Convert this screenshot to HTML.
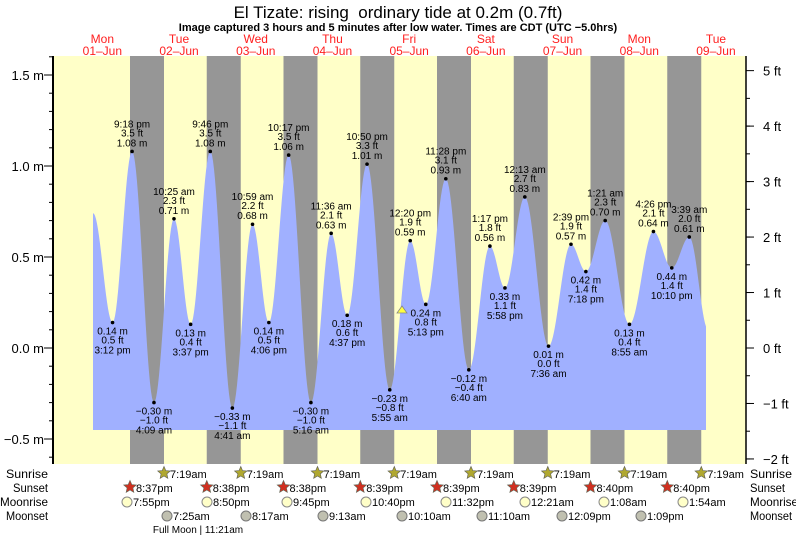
<!DOCTYPE html>
<html><head><meta charset="utf-8"><style>
body{margin:0;background:#fff;}
svg{display:block;font-family:"Liberation Sans",sans-serif;}
</style></head><body>
<svg id="s" width="796" height="537" xmlns="http://www.w3.org/2000/svg">
<rect x="53" y="56" width="693" height="408" fill="#ffffc8"/>
<g id="bands" fill="#969696"></g>
<path id="tide" fill="#a0b0ff"/>
<g id="lbl" font-size="10" text-anchor="middle" fill="#000"></g>
<line x1="53" y1="56" x2="53" y2="464" stroke="#000" stroke-width="2"/>
<line x1="746" y1="56" x2="746" y2="464" stroke="#000" stroke-width="1.5"/>
<g id="ax" font-size="13" fill="#000"></g>
<text x="398" y="18" font-size="17" text-anchor="middle">El Tizate: rising&#160; ordinary tide at 0.2m (0.7ft)</text>
<text x="398" y="31" font-size="11" font-weight="bold" text-anchor="middle">Image captured 3 hours and 5 minutes after low water. Times are CDT (UTC −5.0hrs)</text>
<g id="days" font-size="12" fill="#ff2020" text-anchor="middle"></g>
<g id="bot" font-size="12" fill="#000"></g>
<text x="198" y="533" font-size="10" text-anchor="middle">Full Moon | 11:21am</text>
<polygon points="397,313 402,306 407,313" fill="#ffff40" stroke="#888" stroke-width="0.8"/>
</svg>
<script>
const NS="http://www.w3.org/2000/svg";
function el(p,t,a,txt){const e=document.createElementNS(NS,t);for(const k in a)e.setAttribute(k,a[k]);if(txt!==undefined)e.textContent=txt;p.appendChild(e);return e;}
const X=d=>64+d*76.7, Y=m=>348-182*m;
const bands=document.getElementById('bands');
for(let k=0;k<8;k++){const x0=130+k*76.75;el(bands,'rect',{x:x0,y:56,width:34,height:408});}
const pts=[[0.38,0.74],
[0.633,0.14,'3:12 pm'],[0.8875,1.08,'9:18 pm'],[1.173,-0.30,'4:09 am'],[1.434,0.71,'10:25 am'],[1.651,0.13,'3:37 pm'],[1.907,1.08,'9:46 pm'],[2.195,-0.33,'4:41 am'],[2.458,0.68,'10:59 am'],[2.671,0.14,'4:06 pm'],[2.929,1.06,'10:17 pm'],[3.219,-0.30,'5:16 am'],[3.483,0.63,'11:36 am'],[3.692,0.18,'4:37 pm'],[3.951,1.01,'10:50 pm'],[4.247,-0.23,'5:55 am'],[4.514,0.59,'12:20 pm'],[4.717,0.24,'5:13 pm'],[4.978,0.93,'11:28 pm'],[5.278,-0.12,'6:40 am'],[5.553,0.56,'1:17 pm'],[5.749,0.33,'5:58 pm'],[6.008,0.83,'12:13 am'],[6.317,0.01,'7:36 am'],[6.610,0.57,'2:39 pm'],[6.804,0.42,'7:18 pm'],[7.056,0.70,'1:21 am'],[7.372,0.13,'8:55 am'],[7.685,0.64,'4:26 pm'],[7.924,0.44,'10:10 pm'],[8.152,0.61,'3:39 am'],[8.40,0.10]];
let d='M93,430';
const xs=93,xe=706;
for(let x=xs;x<=xe;x++){const t=(x-64)/76.7;let i=0;while(i<pts.length-2&&pts[i+1][0]<t)i++;const a=pts[i],b=pts[i+1];let f=(t-a[0])/(b[0]-a[0]);f=Math.max(0,Math.min(1,f));const m=a[1]+(b[1]-a[1])*(1-Math.cos(Math.PI*f))/2;d+=' L'+x+','+Y(m).toFixed(1);}
d+=' L'+xe+',430 Z';
document.getElementById('tide').setAttribute('d',d);
const lbl=document.getElementById('lbl');
for(let i=1;i<pts.length-1;i++){const p=pts[i];const x=X(p[0]),y=Y(p[1]);el(lbl,'circle',{cx:x,cy:y,r:1.8});
const ft=(p[1]/0.3048).toFixed(1).replace('-','−')+' ft';const m=p[1].toFixed(2).replace('-','−')+' m';
const hi=p[1]>pts[i-1][1];
if(hi){el(lbl,'text',{x:x,y:y-5},m);el(lbl,'text',{x:x,y:y-15},ft);el(lbl,'text',{x:x,y:y-24},p[2]);}
else{el(lbl,'text',{x:x,y:y+12},m);el(lbl,'text',{x:x,y:y+21},ft);el(lbl,'text',{x:x,y:y+31},p[2]);}}
const ax=document.getElementById('ax');
[[1.5,'1.5 m'],[1.0,'1.0 m'],[0.5,'0.5 m'],[0,'0.0 m'],[-0.5,'−0.5 m']].forEach(([m,t])=>{el(ax,'text',{x:44,y:Y(m)+5,'text-anchor':'end'},t);el(ax,'line',{x1:44,x2:53,y1:Y(m),y2:Y(m),stroke:'#000'});});
for(let m=-0.6;m<=1.61;m+=0.1){el(ax,'line',{x1:49,x2:53,y1:Y(m),y2:Y(m),stroke:'#000'});}
for(let f=-2;f<=5;f++){const y=Y(f*0.3048);el(ax,'line',{x1:746,x2:754,y1:y,y2:y,stroke:'#000'});el(ax,'text',{x:763,y:y+5},(f<0?'−'+(-f):f)+' ft');}
for(let f=-2;f<5;f+=0.5){const y=Y(f*0.3048);el(ax,'line',{x1:746,x2:750,y1:y,y2:y,stroke:'#000'});}
const days=document.getElementById('days');
const dn=['Mon','Tue','Wed','Thu','Fri','Sat','Sun','Mon','Tue'];
for(let k=0;k<9;k++){const x=X(k+0.5);el(days,'text',{x:x,y:43},dn[k]);el(days,'text',{x:x,y:55},'0'+(k+1)+'–Jun');}
const bot=document.getElementById('bot');
const lw=[42,35,48,42];
['Sunrise','Sunset','Moonrise','Moonset'].forEach((t,i)=>{const y=478+i*14;el(bot,'text',{x:48-lw[i],y:y,textLength:lw[i],lengthAdjust:'spacingAndGlyphs'},t);el(bot,'text',{x:750,y:y,textLength:lw[i],lengthAdjust:'spacingAndGlyphs'},t);});
function star(x,y,c){let p='';for(let i=0;i<10;i++){const r=i%2?3:6.5,a=-Math.PI/2+i*Math.PI/5;p+=(x+r*Math.cos(a)).toFixed(1)+','+(y+r*Math.sin(a)).toFixed(1)+' ';}el(bot,'polygon',{points:p,fill:c,stroke:'#665',"stroke-width":0.7});}
for(let k=0;k<8;k++){const x=164+k*76.75;star(x,473,'#b0a830');el(bot,'text',{x:x+6,y:478,'font-size':11},'7:19am');}
const ss=['8:37pm','8:38pm','8:38pm','8:39pm','8:39pm','8:39pm','8:40pm','8:40pm'];
for(let k=0;k<8;k++){const x=130+k*76.75;star(x,487,'#d03020');el(bot,'text',{x:x+6,y:492,'font-size':11},ss[k]);}
const mr=[[127,'7:55pm'],[207,'8:50pm'],[287,'9:45pm'],[366,'10:40pm'],[446,'11:32pm'],[525,'12:21am'],[604,'1:08am'],[683,'1:54am']];
mr.forEach(([x,t])=>{el(bot,'circle',{cx:x,cy:502,r:5,fill:'#ffffc8',stroke:'#888'});el(bot,'text',{x:x+6,y:506,'font-size':11},t);});
const ms=[[167,'7:25am'],[246,'8:17am'],[323,'9:13am'],[402,'10:10am'],[482,'11:10am'],[562,'12:09pm'],[641,'1:09pm']];
ms.forEach(([x,t])=>{el(bot,'circle',{cx:x,cy:516,r:5,fill:'#c0c0b0',stroke:'#777'});el(bot,'text',{x:x+6,y:520,'font-size':11},t);});
</script>
</body></html>
